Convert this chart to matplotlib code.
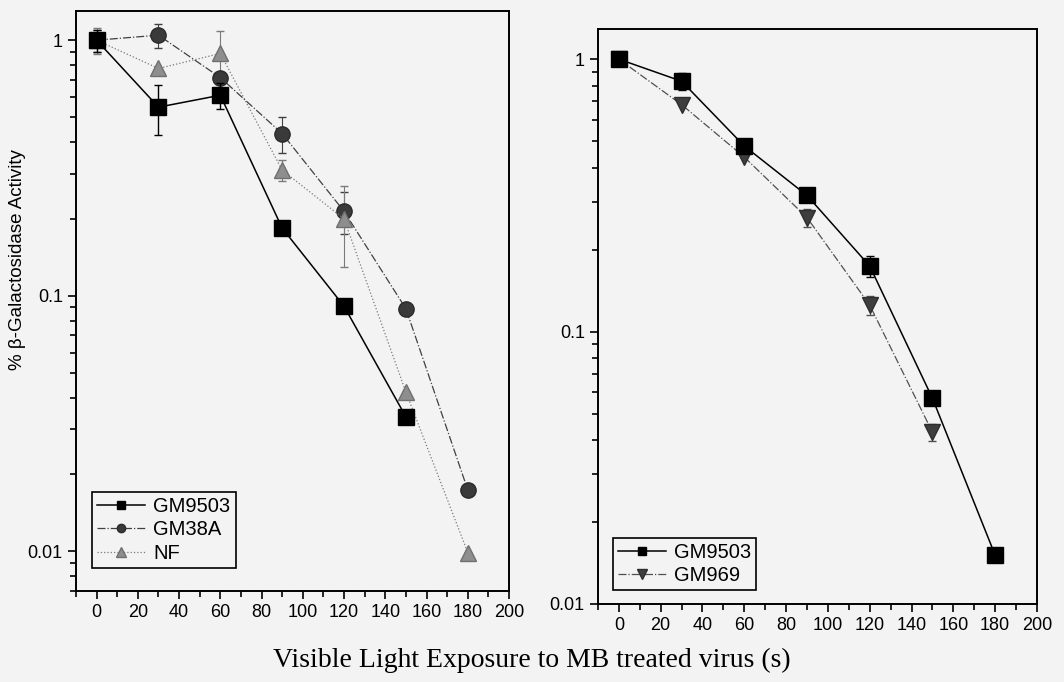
import numpy as np
import matplotlib
matplotlib.use('Agg')
from matplotlib import pyplot as plt
from matplotlib.lines import Line2D
from matplotlib.ticker import MultipleLocator, LogLocator, FuncFormatter, NullFormatter

# exposure times (s)
t_left = [0, 30, 60, 90, 120, 150]
t_left_long = [0, 30, 60, 90, 120, 150, 180]
t_right = [0, 30, 60, 90, 120, 150, 180]
t_right_short = [0, 30, 60, 90, 120, 150]

# left panel
gm9503_a = [1.0, 0.547, 0.609, 0.184, 0.091, 0.0336]
gm9503_a_err = [0.10, 0.12, 0.07, 0.0, 0.0, 0.0]
gm38a = [1.0, 1.046, 0.714, 0.431, 0.214, 0.089, 0.0174]
gm38a_err = [0.10, 0.11, 0.0, 0.07, 0.04, 0.0, 0.0]
nf = [1.0, 0.775, 0.887, 0.310, 0.200, 0.042, 0.0099]
nf_err = [0.12, 0.0, 0.20, 0.03, 0.07, 0.0, 0.0]

# right panel
gm9503_b = [1.0, 0.83, 0.48, 0.316, 0.174, 0.0569, 0.0151]
gm9503_b_err = [0.04, 0.06, 0.0, 0.0, 0.015, 0.0, 0.0]
gm969 = [1.0, 0.681, 0.437, 0.262, 0.125, 0.0427]
gm969_err = [0.05, 0.0, 0.0, 0.02, 0.01, 0.003]

bg = '#f3f3f3'
plt.rcParams['font.family'] = ['Liberation Sans', 'DejaVu Sans']

fig = plt.figure(figsize=(10.64, 6.82), dpi=100, facecolor=bg)
ax1 = fig.add_axes([0.0714, 0.1334, 0.407, 0.8504], facecolor=bg)
ax2 = fig.add_axes([0.562, 0.1144, 0.4126, 0.843], facecolor=bg)

def style(ax, ylo, yhi):
    ax.set_yscale('log')
    ax.set_xlim(-10, 200)
    ax.set_ylim(ylo, yhi)
    ax.xaxis.set_major_locator(MultipleLocator(20))
    ax.xaxis.set_minor_locator(MultipleLocator(10))
    ax.yaxis.set_major_locator(LogLocator(base=10))
    ax.yaxis.set_minor_locator(LogLocator(base=10, subs=np.arange(2, 10)))
    ax.yaxis.set_major_formatter(FuncFormatter(lambda v, p: '%g' % v))
    ax.yaxis.set_minor_formatter(NullFormatter())
    ax.tick_params(which='major', direction='out', length=6, width=1.2, labelsize=13, top=False, right=False)
    ax.tick_params(which='minor', direction='out', length=4, width=1.2, top=False, right=False)
    for s in ax.spines.values():
        s.set_linewidth(1.4)

style(ax1, 0.007, 1.3)
style(ax2, 0.01, 1.29)

sq = dict(color='black', lw=1.1, ls='-', marker='s', mfc='black', mec='black')
ci = dict(color='#404040', lw=0.9, ls='-.', marker='o', mfc='#3a3a3a', mec='#2a2a2a')
tr = dict(color='#7a7a7a', lw=0.9, ls=':', marker='^', mfc='#8e8e8e', mec='#707070')
dt = dict(color='#505050', lw=0.9, ls='-.', marker='v', mfc='#3e3e3e', mec='#2e2e2e')

ax1.errorbar(t_left, gm9503_a, yerr=gm9503_a_err, ms=11, capsize=3, elinewidth=1, zorder=4, **sq)
ax1.errorbar(t_left_long, gm38a, yerr=gm38a_err, ms=11, capsize=3, elinewidth=0.8, zorder=3, **ci)
ax1.errorbar(t_left_long, nf, yerr=nf_err, ms=12, capsize=3, elinewidth=0.8, zorder=3, **tr)

ax2.errorbar(t_right, gm9503_b, yerr=gm9503_b_err, ms=11, capsize=3, elinewidth=1, zorder=4, **sq)
ax2.errorbar(t_right_short, gm969, yerr=gm969_err, ms=12, capsize=3, elinewidth=0.8, zorder=3, **dt)

h1 = [Line2D([], [], ms=6, **sq), Line2D([], [], ms=6, **ci), Line2D([], [], ms=7, **tr)]
h2 = [Line2D([], [], ms=6, **sq), Line2D([], [], ms=7, **dt)]

for ax, hs, labs, anchor in [(ax1, h1, ['GM9503', 'GM38A', 'NF'], (0.037, 0.040)),
                             (ax2, h2, ['GM9503', 'GM969'], (0.034, 0.024))]:
    leg = ax.legend(hs, labs, loc='lower left', bbox_to_anchor=anchor, fontsize=14.5, frameon=True,
                    fancybox=False, edgecolor='black', facecolor=bg, framealpha=1,
                    handlelength=2.4, borderpad=0.25, labelspacing=0.22, handletextpad=0.4, borderaxespad=0)
    leg.get_frame().set_linewidth(1.2)

fig.text(0.016, 0.62, '% β-Galactosidase Activity', rotation=90, ha='center', va='center', fontsize=13.5)
fig.text(0.5, 0.032, 'Visible Light Exposure to MB treated virus (s)', ha='center', va='center',
         fontsize=20, family=['Liberation Serif', 'DejaVu Serif'])

fig.savefig('out.png', dpi=100, facecolor=bg)
